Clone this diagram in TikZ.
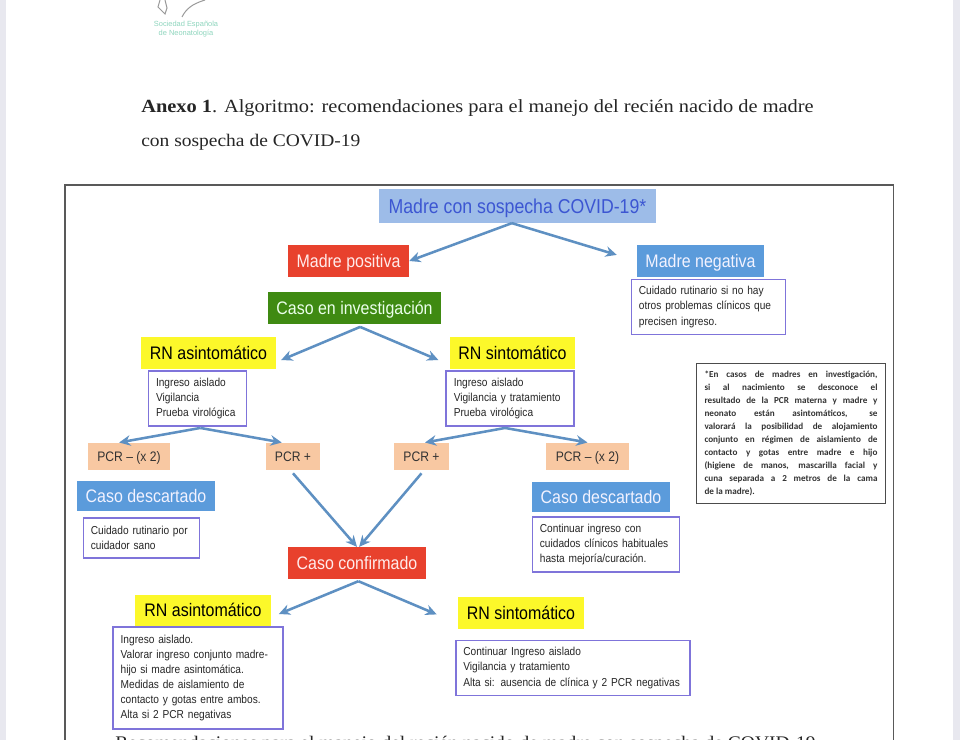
\documentclass[tikz,border=0pt]{standalone}
\usepackage{xcolor}
\usepackage{fontspec}
\setmainfont[FakeStretch=0.88]{Liberation Sans}
\newfontfamily\logofont{Liberation Sans}
\newfontfamily\notafont{Carlito}
\newfontfamily\anexofont[FakeStretch=1.1]{Liberation Serif}
\usetikzlibrary{arrows.meta}
\definecolor{azulcab}{HTML}{9DBCE8}
\definecolor{azultxt}{HTML}{3C56D2}
\definecolor{rojo}{HTML}{E8412D}
\definecolor{verde}{HTML}{3F8A12}
\definecolor{amarillo}{HTML}{FCF82A}
\definecolor{salmon}{HTML}{F8C8A2}
\definecolor{azul}{HTML}{5B9BDB}
\definecolor{flechaazul}{HTML}{5E90C2}
\definecolor{lila}{HTML}{7F74DA}
\definecolor{pagina}{HTML}{E8E8EF}
\definecolor{sene}{HTML}{8FD6BE}
\tikzset{
    etiqueta/.style={minimum height=22.5pt, inner sep=0pt, text height=11pt, text depth=1.8pt, font=\fontsize{12.9}{14}\selectfont},
    caja/.style={draw=lila, line width=0.9pt, fill=white, inner sep=0pt, font=\fontsize{8.2}{10.7}\selectfont, text=black!85},
    pcr/.style={fill=salmon, minimum height=19.5pt, inner sep=0pt, text height=8.5pt, text depth=1.5pt, font=\fontsize{9.8}{10}\selectfont, text=black!80},
    flecha/.style={-{Stealth[length=8pt,width=7.5pt]}, line width=1.8pt, flechaazul},
    encabezado/.style={anchor=base west, inner sep=0pt, font=\anexofont\fontsize{13.2}{14}\selectfont, text=black!85},
}
\begin{document}
\begin{tikzpicture}[x=0.025cm, y=-0.025cm]
    \useasboundingbox (0,0) rectangle (960,740);
    \fill[pagina] (0,0) rectangle (960,740);
    \fill[white] (6,0) rectangle (953,740);

    % logo
    \draw[gray!80, line width=0.7pt] (160,0) -- (158,7) -- (165,14) -- (167,8) -- (165,0);
    \draw[gray!80, line width=0.7pt] (182,17) .. controls (186,9) and (192,4) .. (205,0);
    \node[font=\logofont\fontsize{5.3}{6.4}\selectfont, text=sene, align=center] (logo) at (186,29) {Sociedad Española\\de Neonatología};

    % encabezado
    \node[encabezado] (anexo) at (141,112.5) {\textbf{Anexo 1}. Algoritmo: recomendaciones para el manejo del recién nacido de madre};
    \node[encabezado, font=\anexofont\fontsize{12.6}{14}\selectfont] (anexob) at (141,146.5) {con sospecha de COVID-19};

    % marco
    \draw[black!65, line width=1pt] (65,740) -- (65,185) -- (893.5,185) -- (893.5,740);

    % primera parte
    \node[fill=azulcab, text=azultxt, minimum width=197pt, minimum height=24pt, inner sep=0pt, text height=12pt, text depth=1.8pt, font=\fontsize{14.3}{16}\selectfont] (madre) at (517.5,206) {Madre con sospecha COVID-19*};
    \node[etiqueta, fill=rojo, text=red!8, minimum width=86pt] (mpos) at (348.5,261) {Madre positiva};
    \node[etiqueta, fill=azul, text=blue!5, minimum width=90pt] (mneg) at (700.5,261) {Madre negativa};
    \node[etiqueta, fill=verde, text=green!8, minimum width=123pt] (inv) at (354.5,308) {Caso en investigación};
    \node[caja, minimum width=110pt, minimum height=39.5pt, text width=99pt, align=left] (cajaneg) at (708.5,307) {Cuidado rutinario si no hay\\otros problemas clínicos que\\precisen ingreso.};

    \node[etiqueta, fill=amarillo, minimum width=96pt] (rnas) at (208.5,353) {RN asintomático};
    \node[etiqueta, fill=amarillo, minimum width=89pt] (rnsi) at (512.5,353) {RN sintomático};
    \node[caja, minimum width=70pt, minimum height=39pt, text width=59pt, align=left] (cajaas) at (197.5,398.5) {Ingreso aislado\\Vigilancia\\Prueba virológica};
    \node[caja, minimum width=91pt, minimum height=39pt, text width=80pt, align=left] (cajasi) at (510,398.5) {Ingreso aislado\\Vigilancia y tratamiento\\Prueba virológica};

    \node[pcr, minimum width=58pt] (pcrnega) at (129,456.5) {PCR – (x 2)};
    \node[pcr, minimum width=38.5pt] (pcrposa) at (293,456.5) {PCR +};
    \node[pcr, minimum width=39pt] (pcrposb) at (421.5,456.5) {PCR +};
    \node[pcr, minimum width=59pt] (pcrnegb) at (587.5,456.5) {PCR – (x 2)};

    \node[etiqueta, fill=azul, text=blue!5, minimum width=98pt, minimum height=21.5pt] (desca) at (146,496) {Caso descartado};
    \node[etiqueta, fill=azul, text=blue!5, minimum width=98pt, minimum height=21.5pt] (descb) at (601,497) {Caso descartado};
    \node[caja, minimum width=83pt, minimum height=28.5pt, text width=72pt, align=left] (cajadesca) at (141.5,538) {Cuidado rutinario por\\cuidador sano};
    \node[caja, minimum width=105pt, minimum height=39pt, text width=94pt, align=left] (cajadescb) at (606,544.5) {Continuar ingreso con\\cuidados clínicos habituales\\hasta mejoría/curación.};

    % nota
    \node[draw=black!70, line width=0.8pt, minimum width=134pt, minimum height=99pt, inner sep=0pt, text width=123pt, align=justify, font=\notafont\bfseries\fontsize{6.5}{9.25}\selectfont, text=black!80] (nota) at (791,433.5) {\rule{0pt}{3pt}*En casos de madres en investigación,\linebreak si al nacimiento se desconoce el\linebreak resultado de la PCR materna y madre y\linebreak neonato están asintomáticos, se\linebreak valorará la posibilidad de alojamiento\linebreak conjunto en régimen de aislamiento de\linebreak contacto y gotas entre madre e hijo\linebreak (higiene de manos, mascarilla facial y\linebreak cuna separada a 2 metros de la cama\linebreak de la madre).};

    % caso confirmado
    \node[etiqueta, fill=rojo, text=red!8, minimum width=98pt] (conf) at (357,563) {Caso confirmado};
    \node[etiqueta, fill=amarillo, minimum width=96.5pt] (rnasb) at (203,610.5) {RN asintomático};
    \node[etiqueta, fill=amarillo, minimum width=89.5pt] (rnsib) at (521,613) {RN sintomático};
    \node[caja, minimum width=121pt, minimum height=72.5pt, text width=110pt, align=left] (cajaasb) at (198,678) {Ingreso aislado.\\Valorar ingreso conjunto madre-\\hijo si madre asintomática.\\Medidas de aislamiento de\\contacto y gotas entre ambos.\\Alta si 2 PCR negativas};
    \node[caja, minimum width=166.5pt, minimum height=39.5pt, text width=156pt, align=left] (cajasib) at (573,668) {Continuar Ingreso aislado\\Vigilancia y tratamiento\\Alta si: ausencia de clínica y 2 PCR negativas};

    \node[anchor=base west, inner sep=0pt, font=\anexofont\fontsize{12.6}{14}\selectfont, text=black!85] (pie) at (115,748) {Recomendaciones para el manejo del recién nacido de madre con sospecha de COVID-19};

    % flechas
    \draw[flecha] ([xshift=-4pt]madre.south) -- (mpos.east);
    \draw[flecha, shorten >=15pt] ([xshift=-4pt]madre.south) -- (mneg.west);
    \draw[flecha] ([xshift=4pt,yshift=-2pt]inv.south) -- ([xshift=3.5pt,yshift=-5pt]rnas.east);
    \draw[flecha] ([xshift=4pt,yshift=-2pt]inv.south) -- ([xshift=-8pt,yshift=-5pt]rnsi.west);
    \draw[flecha] ([xshift=2pt,yshift=-1pt]cajaas.south) -- ([xshift=-7pt]pcrnega.north);
    \draw[flecha] ([xshift=2pt,yshift=-1pt]cajaas.south) -- ([xshift=-8pt]pcrposa.north);
    \draw[flecha] ([xshift=-3.5pt,yshift=-1pt]cajasi.south) -- ([xshift=2.5pt]pcrposb.north);
    \draw[flecha] ([xshift=-3.5pt,yshift=-1pt]cajasi.south) -- (pcrnegb.north);
    \draw[flecha] ([yshift=-2pt]pcrposa.south) -- (conf.north);
    \draw[flecha] ([yshift=-2pt]pcrposb.south) -- ([xshift=1.5pt]conf.north);
    \draw[flecha] ([xshift=1pt,yshift=-1.5pt]conf.south) -- ([xshift=5.5pt,yshift=-2.5pt]rnasb.east);
    \draw[flecha] ([xshift=1pt,yshift=-1.5pt]conf.south) -- ([xshift=-15pt,yshift=-1pt]rnsib.west);
\end{tikzpicture}
\end{document}
